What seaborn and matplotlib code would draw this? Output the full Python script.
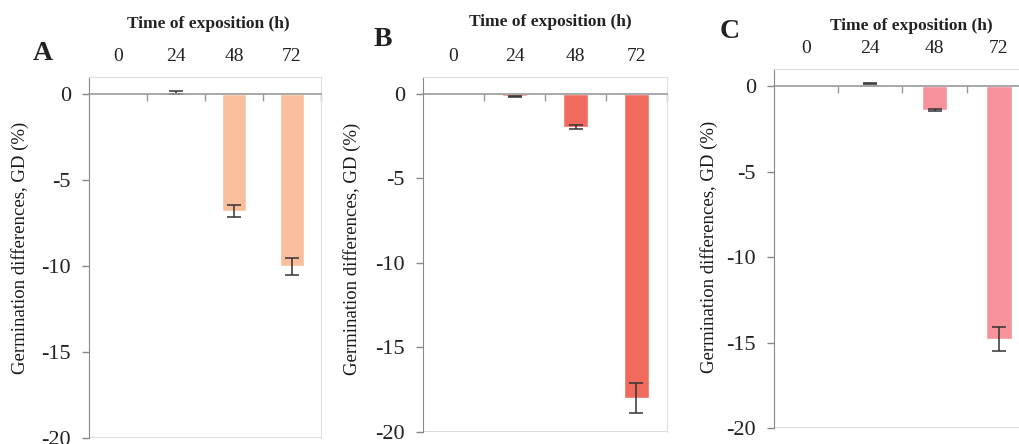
import numpy as np
import pandas as pd
import seaborn as sns
import matplotlib.pyplot as plt

# exposure times (h) and germination differences GD (%)
hours = ['0', '24', '48', '72']
gd_a = [0.0, 0.12, -6.8, -10.0]
err_a = [0.0, 0.08, 0.35, 0.5]
gd_b = [0.0, -0.15, -1.95, -18.0]
err_b = [0.0, 0.05, 0.1, 0.9]
gd_c = [0.0, 0.15, -1.4, -14.8]
err_c = [0.0, 0.05, 0.07, 0.72]

panels = ['A', 'B', 'C']
colors = ['#F9BF9C', '#F06B5E', '#F5929A']

sns.set_style('white')
plt.rcParams['font.family'] = ['Liberation Serif', 'DejaVu Serif']
plt.rcParams['axes.unicode_minus'] = False

fig = plt.figure(figsize=(10.2, 4.44), dpi=100)
W, H = 1020.0, 444.0

# axes boxes in pixels: left, right, top, bottom(-20)
boxes = [(89, 321, 77, 438), (423, 667, 77, 432), (774, 1031, 69, 428)]
titles_xy = [(208, 24), (550, 22), (911, 26)]
letters_xy = [(43, 53), (383, 39), (730, 32)]
ylab_xy = [(-0.259, 0.526), (-0.254, 0.515), (-0.218, 0.504)]

data = [(gd_a, err_a), (gd_b, err_b), (gd_c, err_c)]

for i in range(3):
    l, r, t, b = boxes[i]
    ax = fig.add_axes([l / W, 1 - b / H, (r - l) / W, (b - t) / H])
    vals, errs = data[i]
    df = pd.DataFrame({'h': hours, 'gd': vals})
    sns.barplot(data=df, x='h', y='gd', order=hours, color=colors[i],
                width=0.4, errorbar=None, saturation=1, ax=ax, zorder=2)
    pos = np.arange(len(hours))
    e = np.array(errs)
    show = e > 0
    ax.errorbar(pos[show], np.array(vals)[show], yerr=e[show], fmt='none',
                ecolor='#333333', elinewidth=1.1, capsize=5, capthick=1.1, zorder=3)

    ax.set_ylim(-20, 1)
    ax.set_xlim(-0.5, 3.5)
    ax.set_yticks([0, -5, -10, -15, -20])

    # zero line acts as category axis with boundary ticks
    ax.spines['bottom'].set_position(('data', 0))
    ax.spines['bottom'].set_color('#999999')
    ax.spines['bottom'].set_linewidth(1.2)
    ax.spines['bottom'].set_zorder(4)
    ax.spines['left'].set_color('#888888')
    ax.spines['top'].set_color('#dddddd')
    ax.spines['right'].set_color('#dddddd')
    ax.axhline(-20, color='#dddddd', lw=1.5, zorder=1)

    ax.set_xticks(pos + 0.5, minor=True)
    ax.tick_params(axis='x', which='major', bottom=False, top=False,
                   labelbottom=False, labeltop=True, labelsize=14, pad=5,
                   labelcolor='#222222')
    ax.tick_params(axis='x', which='minor', bottom=True, top=False,
                   direction='out', length=5, width=1, color='#999999')
    ax.tick_params(axis='y', left=True, direction='out', length=5, width=1,
                   color='#888888', labelsize=16, labelcolor='#222222', pad=8)

    ax.set_xlabel('')
    ax.set_ylabel('Germination differences, GD (%)', fontsize=13.5, color='#1a1a1a')
    ax.yaxis.set_label_coords(*ylab_xy[i])

    tx, ty = titles_xy[i]
    fig.text(tx / W, 1 - ty / H, 'Time of exposition (h)', ha='center', va='center',
             fontsize=12.5, fontweight='bold', color='#222222')
    lx, ly = letters_xy[i]
    fig.text(lx / W, 1 - ly / H, panels[i], ha='center', va='center',
             fontsize=20, fontweight='bold', color='#222222')

fig.savefig('out.png', dpi=100)
